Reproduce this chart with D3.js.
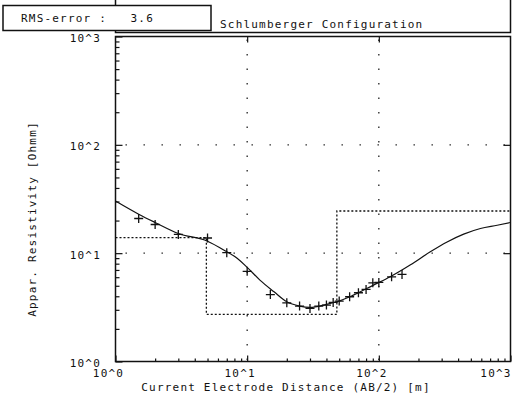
<!DOCTYPE html>
<html>
<head>
<meta charset="utf-8">
<script src="https://cdn.jsdelivr.net/npm/d3@7"></script>
<style>
  body { margin: 0; background: #fff; }
  text { font-family: "DejaVu Sans Mono", monospace; font-size: 11px; letter-spacing: 1.2px; fill: #111; white-space: pre; }
</style>
</head>
<body>
<div id="chart"></div>
<script>
var svgWidth = 514;
var svgHeight = 400;

// plot box in pixels
var plotLeft = 115.5, plotRight = 510.5, plotTop = 36.5, plotBottom = 361.5;

// field data: AB/2 [m] and apparent resistivity [Ohmm]
var abHalf = [1.5, 2, 3, 5, 7, 10, 15, 20, 25, 30, 35, 40, 45, 50, 60, 70, 80, 90, 100, 125, 150];
var rhoMeasured = [20.9, 18.4, 14.9, 13.8, 10.1, 6.8, 4.15, 3.48, 3.25, 3.09, 3.25, 3.32, 3.51, 3.61, 3.96, 4.31, 4.63, 5.32, 5.37, 6.05, 6.37];

// model response curve
var curveAB = [1, 1.5, 2, 3, 5, 7, 8.1, 10, 12.5, 16, 20, 25, 30, 40, 48, 64, 91, 122, 174, 246, 330, 441, 591, 792, 1000];
var curveRho = [30.3, 22.9, 19.2, 15.2, 12.9, 10.3, 9.25, 7.4, 5.64, 4.4, 3.56, 3.25, 3.16, 3.37, 3.56, 4.1, 5.07, 6.05, 7.8, 10.3, 12.7, 15.0, 16.9, 18.1, 19.2];

// layered model: resistivities and layer bottoms [m]
var layerRho = [13.9, 2.72, 24.5];
var layerDepth = [4.9, 48];

var xTicks = [1, 10, 100, 1000];
var xTickLabels = ["10^0", "10^1", "10^2", "10^3"];
var yTicks = [1, 10, 100, 1000];
var yTickLabels = ["10^0", "10^1", "10^2", "10^3"];

var rmsLabel = "RMS-error :   3.6";
var title = "Schlumberger Configuration";
var xTitle = "Current Electrode Distance (AB/2) [m]";
var yTitle = "Appar. Resistivity [Ohmm]";

var svg = d3.select("#chart")
  .append("svg")
  .attr("width", svgWidth)
  .attr("height", svgHeight);

var x = d3.scaleLog().domain([1, 1000]).range([plotLeft, plotRight]);
var y = d3.scaleLog().domain([1, 1000]).range([plotBottom, plotTop]);

// title box
svg.append("rect")
  .attr("x", plotLeft).attr("y", -2)
  .attr("width", plotRight - plotLeft).attr("height", 34.5)
  .attr("fill", "none").attr("stroke", "#111").attr("stroke-width", 1.5);
svg.append("text").attr("x", 220).attr("y", 28).text(title);

// rms box
svg.append("rect")
  .attr("x", 3).attr("y", 5.5)
  .attr("width", 208).attr("height", 25)
  .attr("fill", "#fff").attr("stroke", "#111").attr("stroke-width", 1.5);
svg.append("text").attr("x", 21).attr("y", 22).text(rmsLabel);

// dotted grid at decades
svg.append("g").selectAll("line")
  .data(xTicks.slice(1, -1))
  .enter().append("line")
  .attr("x1", d => x(d)).attr("x2", d => x(d))
  .attr("y1", plotTop + 3).attr("y2", plotBottom)
  .attr("stroke", "#222").attr("stroke-width", 1.3)
  .attr("stroke-dasharray", "1.4 13.1");
svg.append("g").selectAll("line")
  .data(yTicks.slice(1, -1))
  .enter().append("line")
  .attr("y1", d => y(d)).attr("y2", d => y(d))
  .attr("x1", plotLeft + 10).attr("x2", plotRight)
  .attr("stroke", "#222").attr("stroke-width", 1.3)
  .attr("stroke-dasharray", "1.4 16.6");

// axes: ticks drawn inside the plot
var minorX = x.ticks();
var minorY = y.ticks();

svg.append("g")
  .attr("transform", `translate(0,${plotBottom})`)
  .call(d3.axisTop(x).tickValues(minorX).tickFormat("").tickSize(0))
  .call(g => g.select(".domain").remove())
  .call(g => g.selectAll(".tick line")
    .attr("y2", d => xTicks.indexOf(d) >= 0 ? -6 : -3)
    .attr("stroke", "#111").attr("stroke-width", 1.2));

svg.append("g")
  .attr("transform", `translate(${plotLeft},0)`)
  .call(d3.axisRight(y).tickValues(minorY).tickFormat("").tickSize(0))
  .call(g => g.select(".domain").remove())
  .call(g => g.selectAll(".tick line")
    .attr("x2", d => yTicks.indexOf(d) >= 0 ? 7 : 4)
    .attr("stroke", "#111").attr("stroke-width", 1.2));

svg.append("g")
  .attr("transform", `translate(0,${plotTop})`)
  .call(d3.axisBottom(x).tickValues(xTicks.slice(1, -1)).tickFormat("").tickSize(6))
  .call(g => g.select(".domain").remove())
  .call(g => g.selectAll(".tick line").attr("stroke", "#111").attr("stroke-width", 1.2));

svg.append("g")
  .attr("transform", `translate(${plotRight},0)`)
  .call(d3.axisLeft(y).tickValues(yTicks.slice(1, -1)).tickFormat("").tickSize(7))
  .call(g => g.select(".domain").remove())
  .call(g => g.selectAll(".tick line").attr("stroke", "#111").attr("stroke-width", 1.2));

// frame
svg.append("rect")
  .attr("x", plotLeft).attr("y", plotTop)
  .attr("width", plotRight - plotLeft).attr("height", plotBottom - plotTop)
  .attr("fill", "none").attr("stroke", "#111").attr("stroke-width", 1.5);

// tick labels (last one kept inside the page)
svg.append("g").selectAll("text")
  .data(xTicks)
  .enter().append("text")
  .attr("x", d => Math.min(x(d) - 7, svgWidth - 18))
  .attr("y", 377)
  .attr("text-anchor", "middle")
  .text((d, i) => xTickLabels[i]);

svg.append("g").selectAll("text")
  .data(yTicks)
  .enter().append("text")
  .attr("x", 101)
  .attr("y", d => y(d) + 5.5)
  .attr("text-anchor", "end")
  .text((d, i) => yTickLabels[i]);

// axis titles
svg.append("text")
  .attr("x", 286).attr("y", 391)
  .attr("text-anchor", "middle")
  .text(xTitle);

svg.append("text")
  .attr("transform", `translate(36,219) rotate(-90)`)
  .attr("text-anchor", "middle")
  .text(yTitle);

// layered model as dotted steps
var steps = [];
var depthBounds = [1].concat(layerDepth, [1000]);
layerRho.forEach(function(r, i) {
  steps.push([depthBounds[i], r]);
  steps.push([depthBounds[i + 1], r]);
});
svg.append("path")
  .datum(steps)
  .attr("fill", "none")
  .attr("stroke", "#111")
  .attr("stroke-width", 1.3)
  .attr("stroke-dasharray", "2 2")
  .attr("d", d3.line().x(d => x(d[0])).y(d => y(d[1])));

// model response
var curveData = curveAB.map((d, i) => [d, curveRho[i]]);
svg.append("path")
  .datum(curveData)
  .attr("fill", "none")
  .attr("stroke", "#111")
  .attr("stroke-width", 1.2)
  .attr("d", d3.line().x(d => x(d[0])).y(d => y(d[1])).curve(d3.curveMonotoneX));

// measured points as crosses
var pts = abHalf.map((d, i) => [d, rhoMeasured[i]]);
svg.append("g").selectAll("path")
  .data(pts)
  .enter().append("path")
  .attr("transform", d => `translate(${x(d[0])},${y(d[1])})`)
  .attr("d", "M-4.5,0H4.5M0,-4.5V4.5")
  .attr("stroke", "#111")
  .attr("stroke-width", 1.3);
</script>
</body>
</html>
